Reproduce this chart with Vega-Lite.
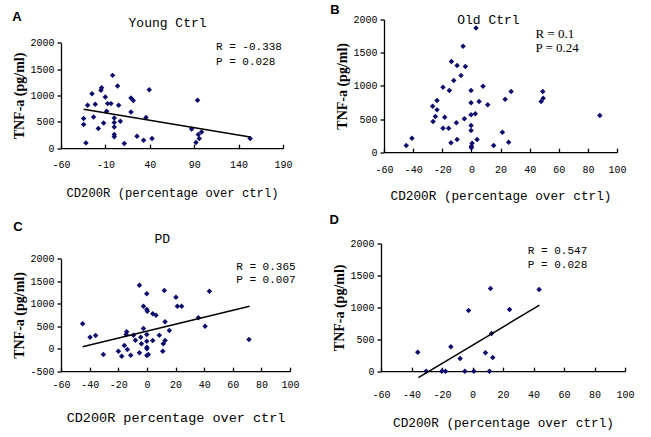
{
  "$schema": "https://vega.github.io/schema/vega-lite/v6.json",
  "padding": {"left": 12, "top": 3.5, "right": 5, "bottom": 3},
  "background": "white",
  "datasets": {
    "a": [
      {"x": -34.5, "y": 562}, {"x": -34.5, "y": 449}, {"x": -31.9, "y": 101}, {"x": -30, "y": 814},
      {"x": -25.1, "y": 1035}, {"x": -23.3, "y": 593}, {"x": -21.4, "y": 833}, {"x": -18, "y": 373},
      {"x": -15, "y": 1098}, {"x": -14.3, "y": 1149}, {"x": -12, "y": 480}, {"x": -10.1, "y": 972},
      {"x": -8.6, "y": 700}, {"x": -7.5, "y": 846}, {"x": -3.7, "y": 846}, {"x": -1.9, "y": 1382},
      {"x": 0, "y": 574}, {"x": 0, "y": 486}, {"x": 0, "y": 404}, {"x": 0, "y": 259}, {"x": 0, "y": 215},
      {"x": 3.7, "y": 1180}, {"x": 4.9, "y": 814}, {"x": 6.8, "y": 511}, {"x": 11.3, "y": 88},
      {"x": 18.8, "y": 953}, {"x": 21.4, "y": 903}, {"x": 18.8, "y": 688}, {"x": 25.6, "y": 227},
      {"x": 33, "y": 152}, {"x": 35.7, "y": 581}, {"x": 39.4, "y": 1111}, {"x": 42.5, "y": 183},
      {"x": 87.1, "y": 366}, {"x": 93.8, "y": 909}, {"x": 92, "y": 107}, {"x": 94.6, "y": 259},
      {"x": 95.7, "y": 183}, {"x": 98.3, "y": 309}, {"x": 153, "y": 183}
    ],
    "aline": [{"x": -34.5, "y": 739}, {"x": 153, "y": 214}],
    "b": [
      {"x": -44.7, "y": 101}, {"x": -40.8, "y": 211}, {"x": -26.6, "y": 693}, {"x": -23.6, "y": 779},
      {"x": -23.6, "y": 638}, {"x": -26.3, "y": 462}, {"x": -24.7, "y": 538}, {"x": -19.5, "y": 979},
      {"x": -18.3, "y": 527}, {"x": -19.5, "y": 362}, {"x": -15.6, "y": 362}, {"x": -15.1, "y": 929},
      {"x": -14, "y": 141}, {"x": -12.1, "y": 1080}, {"x": -13.7, "y": 1366}, {"x": -10.3, "y": 443},
      {"x": -9.8, "y": 1306}, {"x": -9.8, "y": 191}, {"x": -7.1, "y": 1155}, {"x": -5.7, "y": 1596},
      {"x": -4.8, "y": 503}, {"x": -4.1, "y": 1290}, {"x": -0.2, "y": 929}, {"x": -0.2, "y": 744},
      {"x": -0.2, "y": 563}, {"x": -0.2, "y": 402}, {"x": -0.2, "y": 327}, {"x": 0.5, "y": 136},
      {"x": 0, "y": 90}, {"x": 0, "y": 66}, {"x": 2.7, "y": 578}, {"x": 3.2, "y": 1873},
      {"x": 3.9, "y": 191}, {"x": 5.3, "y": 764}, {"x": 8, "y": 994}, {"x": 11.2, "y": 714},
      {"x": 15.3, "y": 101}, {"x": 21.3, "y": 301}, {"x": 23.2, "y": 798}, {"x": 25.6, "y": 151},
      {"x": 27.3, "y": 914}, {"x": 47.9, "y": 764}, {"x": 49.3, "y": 813}, {"x": 49, "y": 914},
      {"x": 88.2, "y": 553}
    ],
    "c": [
      {"x": -44.9, "y": 553}, {"x": -39.7, "y": 256}, {"x": -35.8, "y": 294}, {"x": -30.4, "y": -129},
      {"x": -19.9, "y": -55}, {"x": -17.6, "y": -166}, {"x": -15.7, "y": 71}, {"x": -14.5, "y": 316},
      {"x": -14.1, "y": 376}, {"x": -13.6, "y": -18}, {"x": -11.3, "y": -144}, {"x": -9.4, "y": 300},
      {"x": -8, "y": 189}, {"x": -5.2, "y": 1413}, {"x": -5.2, "y": -91}, {"x": -4.3, "y": 256},
      {"x": -3.8, "y": 109}, {"x": -2.4, "y": 945}, {"x": -2.4, "y": 449}, {"x": -0.1, "y": 1221},
      {"x": -0.1, "y": 872}, {"x": 0.3, "y": 834}, {"x": -0.1, "y": 316}, {"x": -0.1, "y": 167},
      {"x": 0, "y": 33}, {"x": 0, "y": -2}, {"x": 0, "y": -151}, {"x": 1, "y": -129},
      {"x": 4.1, "y": 182}, {"x": 4.1, "y": 776}, {"x": 6.4, "y": 746}, {"x": 8.7, "y": 300},
      {"x": 11.1, "y": -55}, {"x": 11.5, "y": 109}, {"x": 12.2, "y": 1294}, {"x": 12.7, "y": 598},
      {"x": 12.7, "y": 182}, {"x": 15.7, "y": 405}, {"x": 20.3, "y": 1146}, {"x": 21.3, "y": 945},
      {"x": 24.3, "y": 945}, {"x": 36, "y": 687}, {"x": 40.7, "y": 500}, {"x": 43.7, "y": 1279},
      {"x": 71.3, "y": 205}
    ],
    "cline": [{"x": -44.9, "y": 42}, {"x": 71.7, "y": 945}],
    "d": [
      {"x": -35.9, "y": 298}, {"x": -30.4, "y": 0}, {"x": -20.1, "y": 0}, {"x": -17.7, "y": 0},
      {"x": -14.2, "y": 382}, {"x": -8.1, "y": 199}, {"x": -5, "y": 0}, {"x": -2.6, "y": 951},
      {"x": 0.9, "y": 0}, {"x": 8.5, "y": 288}, {"x": 11.1, "y": 0}, {"x": 11.8, "y": 1295},
      {"x": 12.5, "y": 590}, {"x": 13.3, "y": 214}, {"x": 24.3, "y": 966}, {"x": 43.7, "y": 1280}
    ],
    "dline": [{"x": -35.5, "y": -100}, {"x": 43.9, "y": 1034}]
  },
  "spacing": 11,
  "vconcat": [
    {
      "spacing": 37,
      "hconcat": [
        {
          "width": 222, "height": 128.7,
          "layer": [
            {
              "data": {"name": "a"},
              "mark": {"type": "point", "shape": "diamond", "filled": true, "size": 30, "color": "#0c0c6e", "opacity": 1},
              "encoding": {
                "x": {"field": "x", "type": "quantitative", "scale": {"domain": [-60, 190], "nice": false, "zero": false},
                  "axis": {"values": [-60, -10, 40, 90, 140, 190], "tickCount": 30, "title": "CD200R (percentage over ctrl)", "labelExpr": "'' + datum.value", "labelPadding": 15, "titlePadding": 17, "titleFontSize": 12.2}},
                "y": {"field": "y", "type": "quantitative", "scale": {"domain": [0, 2000], "range": [128.7, 23.3], "nice": false, "zero": false},
                  "axis": {"values": [0, 500, 1000, 1500, 2000], "tickCount": 30, "title": "TNF-a (pg/ml)", "labelExpr": "'' + datum.value"}}
              }
            },
            {
              "data": {"name": "aline"},
              "mark": {"type": "line", "color": "black", "strokeWidth": 1.5},
              "encoding": {"x": {"field": "x", "type": "quantitative"}, "y": {"field": "y", "type": "quantitative"}}
            },
            {
              "data": {"values": [{}]},
              "mark": {"type": "text", "text": "A", "font": "Liberation Sans", "fontWeight": "bold", "fontSize": 13, "align": "left", "baseline": "alphabetic"},
              "encoding": {"x": {"datum": -114.8}, "y": {"datum": 2410}}
            },
            {
              "data": {"values": [{}]},
              "mark": {"type": "text", "text": "Young Ctrl", "font": "Liberation Mono", "fontSize": 13, "align": "center", "baseline": "alphabetic"},
              "encoding": {"x": {"datum": 60}, "y": {"datum": 2296}}
            },
            {
              "data": {"values": [{}]},
              "mark": {"type": "text", "text": ["R = -0.338", "P =  0.028"], "lineHeight": 15, "font": "Liberation Mono", "fontSize": 11, "align": "left", "baseline": "alphabetic"},
              "encoding": {"x": {"datum": 114.5}, "y": {"datum": 1854}}
            }
          ]
        },
        {
          "width": 233, "height": 132.7,
          "layer": [
            {
              "data": {"name": "b"},
              "mark": {"type": "point", "shape": "diamond", "filled": true, "size": 30, "color": "#0c0c6e", "opacity": 1},
              "encoding": {
                "x": {"field": "x", "type": "quantitative", "scale": {"domain": [-60, 100], "nice": false, "zero": false},
                  "axis": {"values": [-60, -40, -20, 0, 20, 40, 60, 80, 100], "tickCount": 30, "title": "CD200R (percentage over ctrl)", "labelExpr": "'' + datum.value", "labelPadding": 16, "titlePadding": 15, "titleFontSize": 12.7}},
                "y": {"field": "y", "type": "quantitative", "scale": {"domain": [0, 2000], "nice": false, "zero": false},
                  "axis": {"values": [0, 500, 1000, 1500, 2000], "tickCount": 30, "title": "TNF-a (pg/ml)", "labelExpr": "'' + datum.value"}}
              }
            },
            {
              "data": {"values": [{}]},
              "mark": {"type": "text", "text": "B", "font": "Liberation Sans", "fontWeight": "bold", "fontSize": 13, "align": "left", "baseline": "alphabetic"},
              "encoding": {"x": {"datum": -96.9}, "y": {"datum": 2086}}
            },
            {
              "data": {"values": [{}]},
              "mark": {"type": "text", "text": "Old Ctrl", "font": "Liberation Mono", "fontSize": 13, "align": "center", "baseline": "alphabetic"},
              "encoding": {"x": {"datum": 11.7}, "y": {"datum": 1938}}
            },
            {
              "data": {"values": [{}]},
              "mark": {"type": "text", "text": ["R = 0.1", "P = 0.24"], "lineHeight": 14, "font": "Liberation Serif", "fontSize": 13, "align": "left", "baseline": "alphabetic"},
              "encoding": {"x": {"datum": 44}, "y": {"datum": 1727}}
            }
          ]
        }
      ]
    },
    {
      "spacing": 29,
      "hconcat": [
        {
          "width": 229, "height": 127.7,
          "layer": [
            {
              "data": {"name": "c"},
              "mark": {"type": "point", "shape": "diamond", "filled": true, "size": 30, "color": "#0c0c6e", "opacity": 1},
              "encoding": {
                "x": {"field": "x", "type": "quantitative", "scale": {"domain": [-60, 100], "nice": false, "zero": false},
                  "axis": {"values": [-60, -40, -20, 0, 20, 40, 60, 80, 100], "tickCount": 30, "title": "CD200R percentage over ctrl", "labelExpr": "'' + datum.value", "labelPadding": 12, "titlePadding": 21, "titleFontSize": 13.5}},
                "y": {"field": "y", "type": "quantitative", "scale": {"domain": [-500, 2000], "range": [127.7, 15.3], "nice": false, "zero": false},
                  "axis": {"values": [-500, 0, 500, 1000, 1500, 2000], "tickCount": 30, "title": "TNF-a (pg/ml)", "labelExpr": "'' + datum.value"}}
              }
            },
            {
              "data": {"name": "cline"},
              "mark": {"type": "line", "color": "black", "strokeWidth": 1.5},
              "encoding": {"x": {"field": "x", "type": "quantitative"}, "y": {"field": "y", "type": "quantitative"}}
            },
            {
              "data": {"values": [{}]},
              "mark": {"type": "text", "text": "C", "font": "Liberation Sans", "fontWeight": "bold", "fontSize": 13, "align": "left", "baseline": "alphabetic"},
              "encoding": {"x": {"datum": -93.4}, "y": {"datum": 2614}}
            },
            {
              "data": {"values": [{}]},
              "mark": {"type": "text", "text": "PD", "font": "Liberation Mono", "fontSize": 13, "align": "center", "baseline": "alphabetic"},
              "encoding": {"x": {"datum": 10.8}, "y": {"datum": 2355}}
            },
            {
              "data": {"values": [{}]},
              "mark": {"type": "text", "text": ["R = 0.365", "P = 0.007"], "lineHeight": 13.5, "font": "Liberation Mono", "fontSize": 11, "align": "left", "baseline": "alphabetic"},
              "encoding": {"x": {"datum": 62.4}, "y": {"datum": 1762}}
            }
          ]
        },
        {
          "width": 244, "height": 127.7,
          "layer": [
            {
              "data": {"name": "d"},
              "mark": {"type": "point", "shape": "diamond", "filled": true, "size": 30, "color": "#0c0c6e", "opacity": 1},
              "encoding": {
                "x": {"field": "x", "type": "quantitative", "scale": {"domain": [-60, 100], "nice": false, "zero": false},
                  "axis": {"values": [-60, -40, -20, 0, 20, 40, 60, 80, 100], "tickCount": 30, "title": "CD200R (percentage over ctrl)", "labelExpr": "'' + datum.value", "labelPadding": 22, "titlePadding": 17, "titleFontSize": 12.7}},
                "y": {"field": "y", "type": "quantitative", "scale": {"domain": [0, 2000], "nice": false, "zero": false},
                  "axis": {"values": [0, 500, 1000, 1500, 2000], "tickCount": 30, "title": "TNF-a (pg/ml)", "labelExpr": "'' + datum.value"}}
              }
            },
            {
              "data": {"name": "dline"},
              "mark": {"type": "line", "color": "black", "strokeWidth": 1.5},
              "encoding": {"x": {"field": "x", "type": "quantitative"}, "y": {"field": "y", "type": "quantitative"}}
            },
            {
              "data": {"values": [{}]},
              "mark": {"type": "text", "text": "D", "font": "Liberation Sans", "fontWeight": "bold", "fontSize": 13, "align": "left", "baseline": "alphabetic"},
              "encoding": {"x": {"datum": -93.8}, "y": {"datum": 2313}}
            },
            {
              "data": {"values": [{}]},
              "mark": {"type": "text", "text": ["R = 0.547", "P = 0.028"], "lineHeight": 14, "font": "Liberation Mono", "fontSize": 11, "align": "left", "baseline": "alphabetic"},
              "encoding": {"x": {"datum": 36.3}, "y": {"datum": 1843}}
            }
          ]
        }
      ]
    }
  ],
  "config": {
    "view": {"stroke": null},
    "axis": {
      "grid": false,
      "domainColor": "#000", "domainWidth": 1.3,
      "tickColor": "#000", "tickWidth": 1.3,
      "labelColor": "#000", "labelFont": "Liberation Mono", "labelFontSize": 10,
      "titleColor": "#000", "labelOverlap": false
    },
    "axisX": {"tickSize": -4, "labelFlush": false, "titleFont": "Liberation Mono", "titleFontWeight": "normal"},
    "axisY": {"tickSize": 4, "labelPadding": 3, "titlePadding": 3, "titleFont": "Liberation Serif", "titleFontWeight": "bold", "titleFontSize": 14},
    "text": {"color": "#000"}
  }
}
